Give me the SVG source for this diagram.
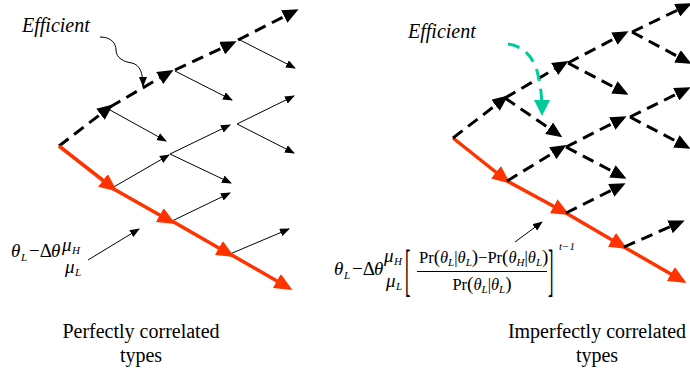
<svg xmlns="http://www.w3.org/2000/svg" width="690" height="373" viewBox="0 0 690 373">
<style>
text { font-family: "Liberation Serif", "Times New Roman", serif; fill: #000; }
.lbl { font-size: 20px; }
.it { font-style: italic; }
.m { font-size: 19px; }
.n { font-size: 16.5px; }
.p { font-size: 19px; }
.sub { font-size: 11px; font-style: italic; }
.dash { stroke: #000; stroke-width: 3; stroke-dasharray: 12 7; fill: none; marker-end: url(#hb); }
.thin { stroke: #000; stroke-width: 1; fill: none; marker-end: url(#ht); }
.red { stroke: #FF3300; stroke-width: 3.5; fill: none; marker-end: url(#hr); }
.grn { stroke: #00CC99; stroke-width: 3; stroke-dasharray: 12 8; fill: none; marker-end: url(#hg); }
.wav { stroke: #000; stroke-width: 1; fill: none; marker-end: url(#ht); }
</style>
<defs>
<marker id="hb" viewBox="0 0 16 14" markerUnits="userSpaceOnUse" markerWidth="16" markerHeight="14" refX="12" refY="7" orient="auto"><path d="M0,0 L16,7 L0,14 z" fill="#000"/></marker>
<marker id="ht" viewBox="0 0 10 8" markerUnits="userSpaceOnUse" markerWidth="10" markerHeight="8" refX="9" refY="4" orient="auto"><path d="M0,0 L10,4 L0,8 z" fill="#000"/></marker>
<marker id="hr" viewBox="0 0 18 16" markerUnits="userSpaceOnUse" markerWidth="18" markerHeight="16" refX="14" refY="8" orient="auto"><path d="M0,0 L18,8 L0,16 z" fill="#FF3300"/></marker>
<marker id="hg" viewBox="0 0 16 16" markerUnits="userSpaceOnUse" markerWidth="16" markerHeight="16" refX="12" refY="8" orient="auto"><path d="M0,0 L16,8 L0,16 z" fill="#00CC99"/></marker>
</defs>

<g id="connectors">
  <!-- left tree: efficient dashed path -->
  <line class="dash" x1="59" y1="146" x2="110" y2="107"/>
  <line class="dash" x1="110" y1="107" x2="170" y2="72"/>
  <line class="dash" x1="175" y1="70" x2="233" y2="43"/>
  <line class="dash" x1="238" y1="40" x2="295" y2="11"/>
  <!-- left tree: thin arrows -->
  <line class="thin" x1="110" y1="110" x2="166" y2="141"/>
  <line class="thin" x1="175" y1="71" x2="232" y2="100"/>
  <line class="thin" x1="238" y1="39" x2="295" y2="68"/>
  <line class="thin" x1="112" y1="188" x2="169" y2="155"/>
  <line class="thin" x1="170" y1="154" x2="231" y2="183"/>
  <line class="thin" x1="170" y1="154" x2="230" y2="125"/>
  <line class="thin" x1="237" y1="124" x2="294" y2="96"/>
  <line class="thin" x1="237" y1="124" x2="294" y2="153"/>
  <line class="thin" x1="172" y1="221" x2="230" y2="193"/>
  <line class="thin" x1="230" y1="254" x2="289" y2="229"/>
  <!-- left tree: red path -->
  <line class="red" x1="59" y1="146" x2="114" y2="189"/>
  <line class="red" x1="112" y1="188" x2="172" y2="222"/>
  <line class="red" x1="172" y1="221" x2="231" y2="255"/>
  <line class="red" x1="230" y1="254" x2="289" y2="288"/>
  <!-- left annotations -->
  <path class="wav" d="M100,37 C112,37 116,44 116,50 C116,58 124,62 132,63 C140,65 143,73 143,86"/>
  <line class="thin" x1="88" y1="260" x2="139" y2="229"/>

  <!-- right tree: red path -->
  <line class="red" x1="453" y1="138" x2="507" y2="181"/>
  <line class="red" x1="507" y1="181" x2="566" y2="213"/>
  <line class="red" x1="566" y1="213" x2="624" y2="247"/>
  <line class="red" x1="624" y1="247" x2="683" y2="281"/>
  <!-- right tree: dashed -->
  <line class="dash" x1="453" y1="138" x2="505" y2="98"/>
  <line class="dash" x1="505" y1="98" x2="565" y2="63"/>
  <line class="dash" x1="505" y1="98" x2="559" y2="135"/>
  <line class="dash" x1="568" y1="63" x2="625" y2="33"/>
  <line class="dash" x1="568" y1="63" x2="625" y2="93"/>
  <line class="dash" x1="632" y1="32" x2="688" y2="5"/>
  <line class="dash" x1="632" y1="32" x2="688" y2="62"/>
  <line class="dash" x1="507" y1="181" x2="563" y2="147"/>
  <line class="dash" x1="566" y1="147" x2="623" y2="118"/>
  <line class="dash" x1="566" y1="147" x2="623" y2="177"/>
  <line class="dash" x1="630" y1="117" x2="687" y2="89"/>
  <line class="dash" x1="630" y1="117" x2="687" y2="147"/>
  <line class="dash" x1="566" y1="213" x2="622" y2="185"/>
  <line class="dash" x1="624" y1="247" x2="681" y2="222"/>
  <!-- right annotations -->
  <path class="grn" d="M508,44 C525,46 535,60 538,75 C541,88 542,98 542,112"/>
  <line class="thin" x1="515" y1="242" x2="542" y2="222"/>
</g>

<g id="label-efficient-left"><text class="lbl it" x="22" y="32">Efficient</text></g>
<g id="label-efficient-right"><text class="lbl it" x="408" y="38">Efficient</text></g>

<g id="formula-left">
  <text class="m it" x="11" y="257">θ</text>
  <text class="sub" x="21" y="261">L</text>
  <text class="m" x="29" y="257">−Δ</text>
  <text class="m it" x="51" y="257">θ</text>
  <text class="m it" x="62" y="251">μ</text>
  <text class="sub" x="72" y="254">H</text>
  <text class="m it" x="65" y="273">μ</text>
  <text class="sub" x="75" y="276">L</text>
</g>

<g id="formula-right">
  <text class="m it" x="334" y="275">θ</text>
  <text class="sub" x="344" y="279">L</text>
  <text class="m" x="352" y="275">−Δ</text>
  <text class="m it" x="374" y="275">θ</text>
  <text class="m it" x="384" y="262">μ</text>
  <text class="sub" x="394" y="265">H</text>
  <text class="m it" x="386" y="287">μ</text>
  <text class="sub" x="396" y="290">L</text>
  <text class="n" transform="translate(405,289) scale(1,3.5)" x="0" y="0">[</text>
  <text class="n" transform="translate(548,289) scale(1,3.5)" x="0" y="0">]</text>
  <text class="n" x="419" y="263">Pr<tspan class="p">(</tspan><tspan class="it">θ</tspan><tspan class="sub" dy="3">L</tspan><tspan dy="-3">|</tspan><tspan class="it">θ</tspan><tspan class="sub" dy="3">L</tspan><tspan class="p" dy="-3">)</tspan>−Pr<tspan class="p">(</tspan><tspan class="it">θ</tspan><tspan class="sub" dy="3">H</tspan><tspan dy="-3">|</tspan><tspan class="it">θ</tspan><tspan class="sub" dy="3">L</tspan><tspan class="p" dy="-3">)</tspan></text>
  <line x1="417" y1="271.5" x2="547" y2="271.5" stroke="#000" stroke-width="1"/>
  <text class="n" x="482" y="290" text-anchor="middle">Pr<tspan class="p">(</tspan><tspan class="it">θ</tspan><tspan class="sub" dy="3">L</tspan><tspan dy="-3">|</tspan><tspan class="it">θ</tspan><tspan class="sub" dy="3">L</tspan><tspan class="p" dy="-3">)</tspan></text>
  <text class="sub" x="559" y="250">t−1</text>
</g>

<g id="caption-left"><text class="lbl" x="141" y="338" text-anchor="middle">Perfectly correlated</text><text class="lbl" x="141" y="362" text-anchor="middle">types</text></g>
<g id="caption-right"><text class="lbl" x="597" y="338" text-anchor="middle">Imperfectly correlated</text><text class="lbl" x="597" y="362" text-anchor="middle">types</text></g>
</svg>
